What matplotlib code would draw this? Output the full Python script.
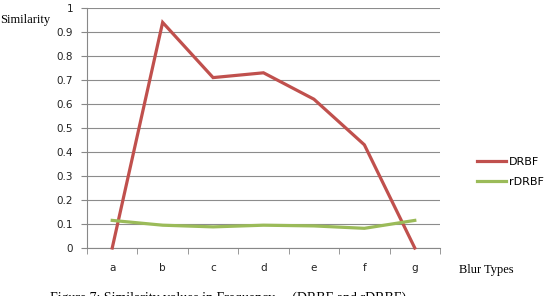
import matplotlib
matplotlib.use("Agg")
import matplotlib.pyplot as plt
from matplotlib.lines import Line2D

categories = ["a", "b", "c", "d", "e", "f", "g"]
drbf = [0.0, 0.94, 0.71, 0.73, 0.62, 0.43, 0.0]
rdrbf = [0.115, 0.095, 0.088, 0.095, 0.092, 0.082, 0.115]
yticks = [0, 0.1, 0.2, 0.3, 0.4, 0.5, 0.6, 0.7, 0.8, 0.9, 1]
ytick_labels = ["0", "0.1", "0.2", "0.3", "0.4", "0.5", "0.6", "0.7", "0.8", "0.9", "1"]

fig = plt.figure(figsize=(5.44, 2.96), dpi=100)
ax = fig.add_axes([87/544, 1-248/296, (440-87)/544, 240/296])

x = list(range(len(categories)))
ax.plot(x, drbf, color="#C0504D", lw=2.3, solid_joinstyle="miter", clip_on=False, zorder=3)
ax.plot(x, rdrbf, color="#9BBB59", lw=2.3, clip_on=False, zorder=3)

ax.set_xlim(-0.5, 6.5)
ax.set_ylim(0, 1)
ax.set_yticks(yticks)
ax.set_yticklabels(ytick_labels, fontsize=7.5, color="#222222")
ax.set_xticks(x)
ax.set_xticklabels(categories, fontsize=7.5, color="#222222")
ax.tick_params(axis="x", which="major", length=0, pad=11)
ax.set_xticks([i - 0.5 for i in range(len(categories) + 1)], minor=True)
ax.tick_params(axis="x", which="minor", length=4, direction="out", color="#888888")
ax.tick_params(axis="y", length=4, direction="out", color="#888888", pad=6)
ax.grid(axis="y", color="#8c8c8c", lw=0.8)
ax.set_axisbelow(True)
for s in ["top", "right"]:
    ax.spines[s].set_visible(False)
for s in ["left", "bottom"]:
    ax.spines[s].set_color("#888888")
    ax.spines[s].set_linewidth(0.8)

fig.text(0.0, 1-20/296, "Similarity", fontsize=9, family="Liberation Serif", va="center", ha="left")
fig.text(459/544, 1-270/296, "Blur Types", fontsize=9, family="Liberation Serif", va="center", ha="left")

handles = [Line2D([], [], color="#C0504D", lw=2.3), Line2D([], [], color="#9BBB59", lw=2.3)]
fig.legend(handles, ["DRBF", "rDRBF"], loc="center left", bbox_to_anchor=(477/544, 1-172/296),
           frameon=False, fontsize=8, handlelength=2.6, handletextpad=0.25, labelspacing=0.9,
           borderaxespad=0, borderpad=0)

fig.text(50/544, 1-292/296, "Figure 7: Similarity values in Frequency ... (DRBF and rDRBF)",
         fontsize=10, family="Liberation Serif", va="top", ha="left")

fig.savefig("out.png", dpi=100)
